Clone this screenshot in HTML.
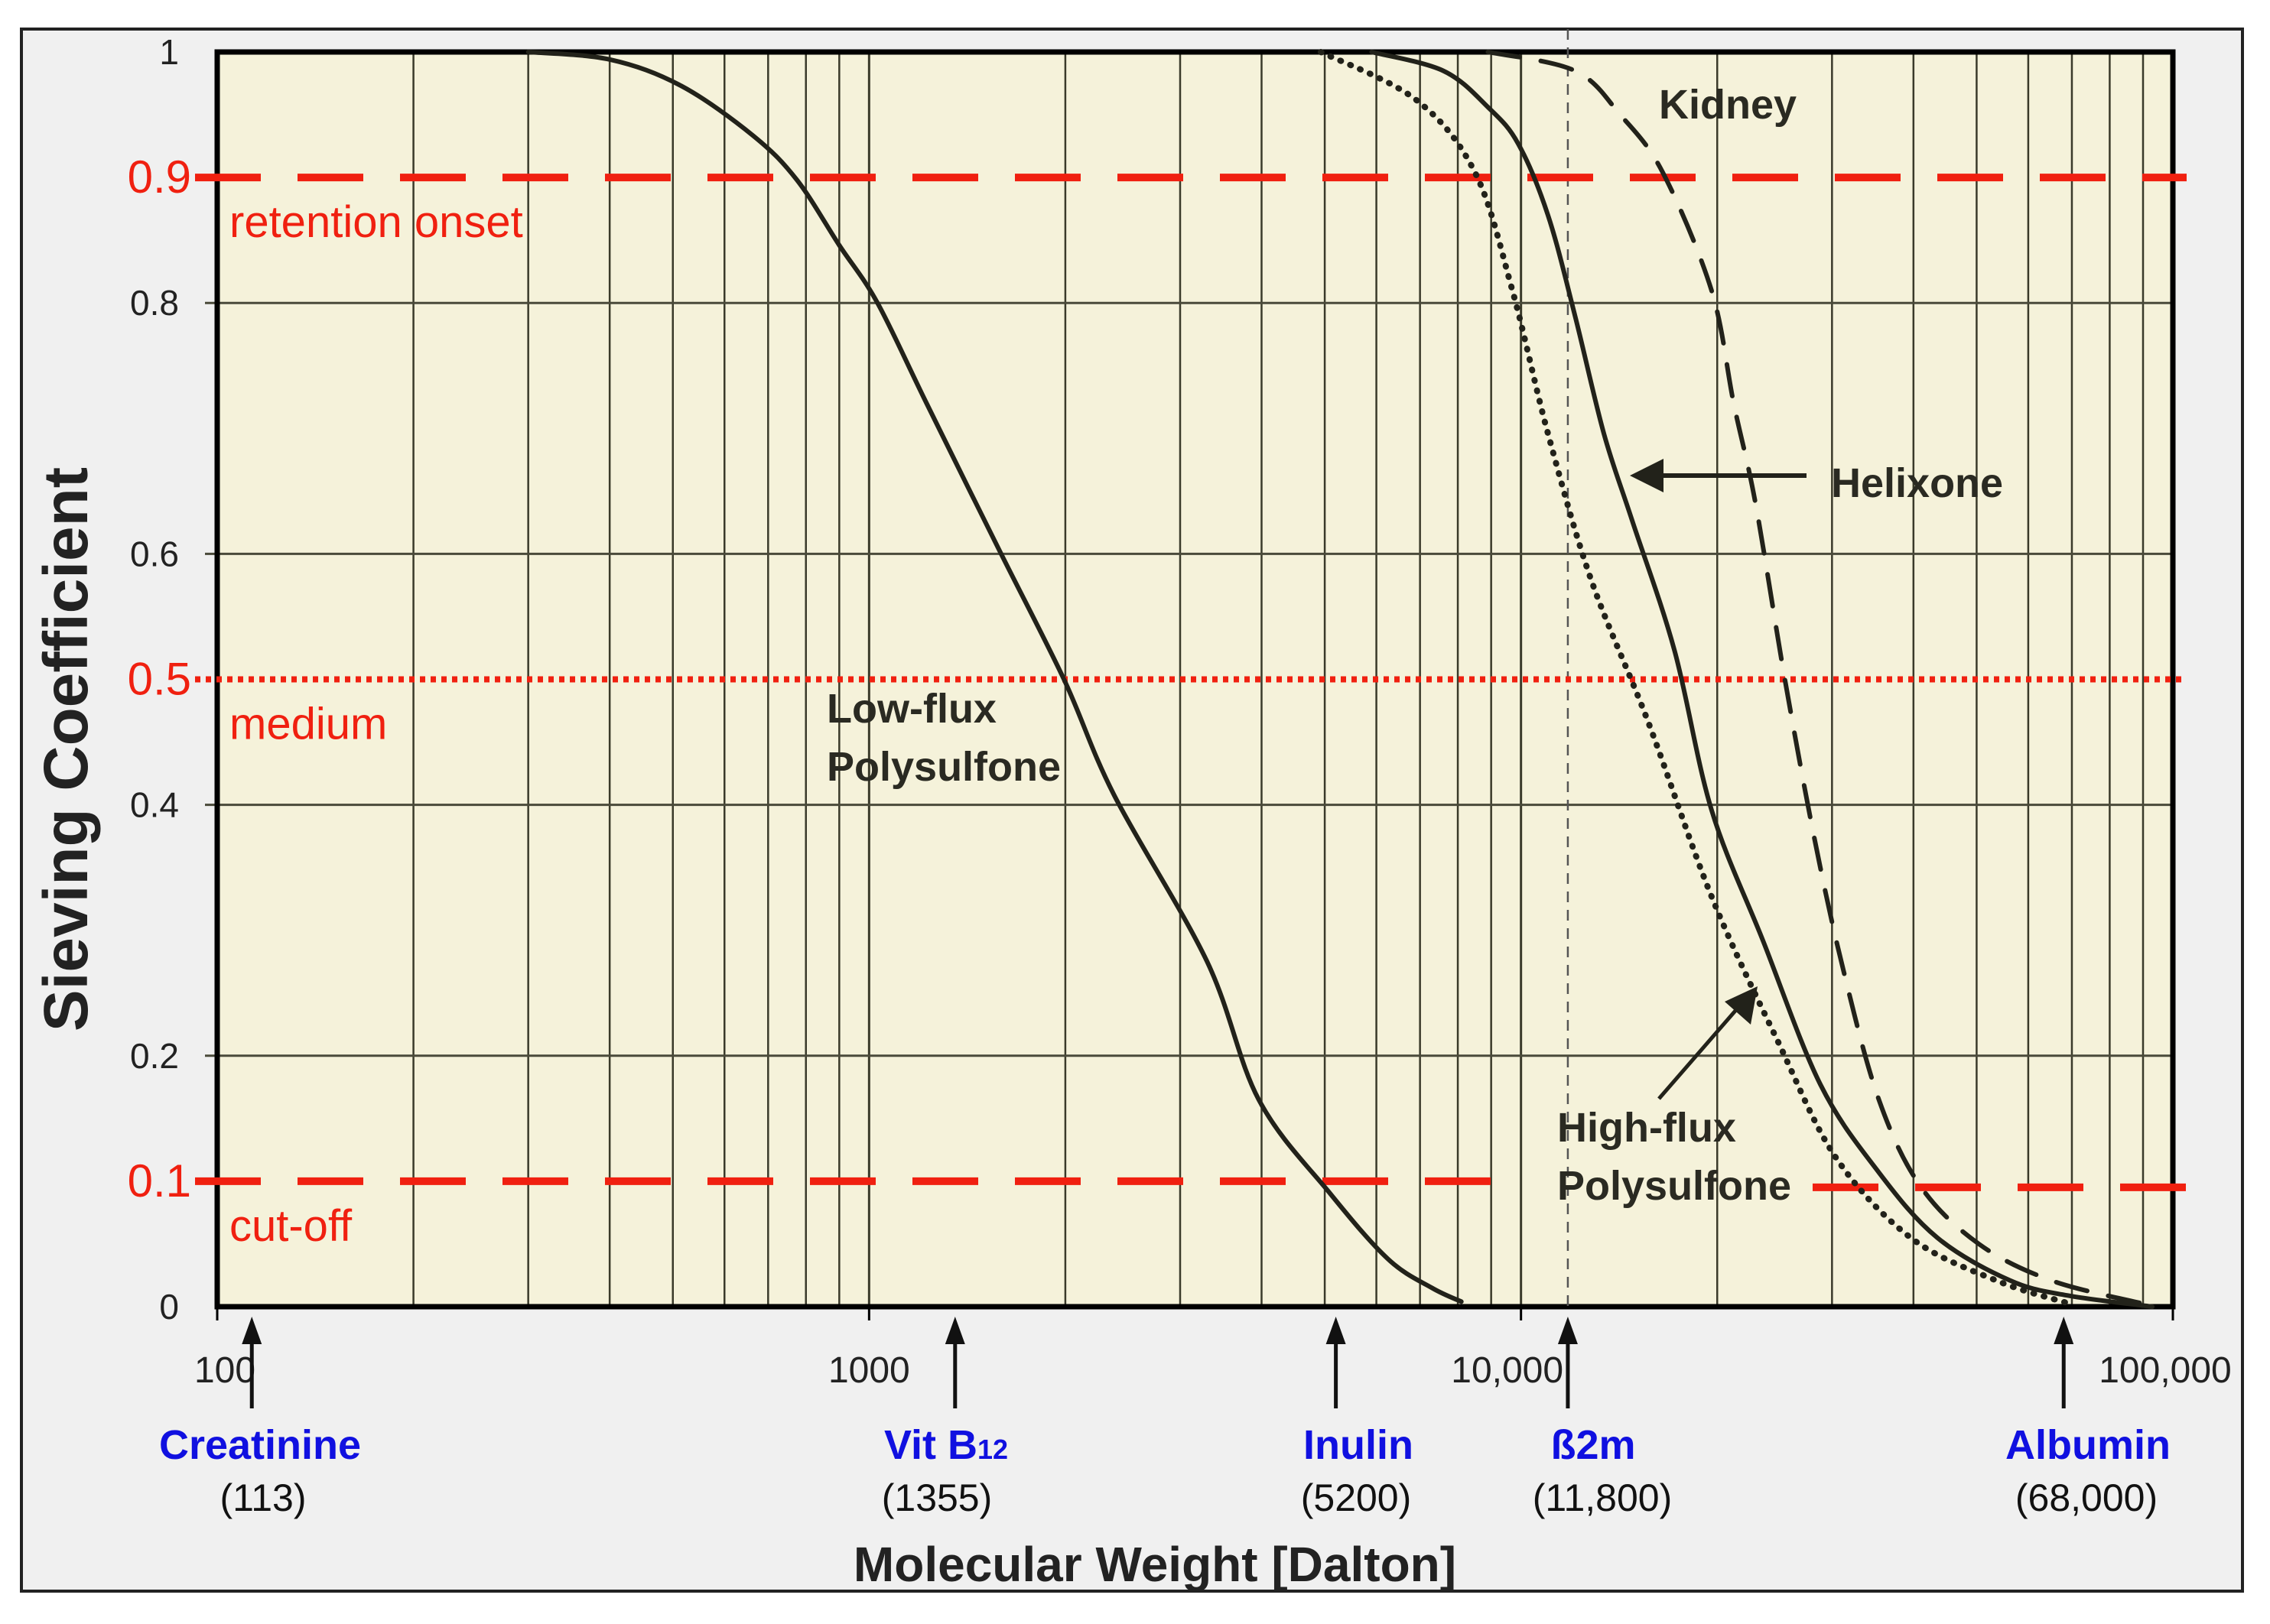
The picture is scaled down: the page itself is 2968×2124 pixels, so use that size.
<!DOCTYPE html>
<html><head><meta charset="utf-8"><style>
html,body{margin:0;padding:0;background:#fff;}
svg{display:block;}
text{font-family:"Liberation Sans",Arial,sans-serif;}
</style></head><body>
<svg id="chart" width="2968" height="2124" viewBox="0 0 2968 2124" xmlns="http://www.w3.org/2000/svg">
<rect x="28" y="38" width="2904" height="2043" fill="#f0f0f0" stroke="#222" stroke-width="4"/>
<g id="plot"></g>
</svg>
<script>
// ---- data ----
const lowFluxMW = [300,400,515,665,775,900,1030,1225,1580,1990,2375,3300,3960,5100,6250,7300,8100];
const lowFluxS  = [1,0.994,0.973,0.933,0.898,0.846,0.8,0.72,0.604,0.5,0.408,0.275,0.165,0.09,0.038,0.015,0.004];
const helixoneMW = [5900,7600,8900,9900,11000,12100,13400,14800,17200,19600,23500,28800,35400,43500,56200,68800,93000];
const helixoneS  = [1,0.985,0.956,0.927,0.87,0.79,0.696,0.627,0.523,0.396,0.292,0.177,0.107,0.055,0.021,0.009,0.0];
const highFluxMW = [4930,6900,8500,9700,11000,12800,15700,19600,24800,30400,39600,53500,68800];
const highFluxS  = [1,0.962,0.904,0.81,0.696,0.58,0.465,0.327,0.211,0.119,0.055,0.021,0.003];
const kidneyMW = [8900,12100,14200,16500,19600,21200,22900,25400,28200,31200,35400,41000,50400,65000,89000];
const kidneyS  = [1,0.985,0.95,0.904,0.81,0.72,0.64,0.5,0.373,0.269,0.165,0.096,0.05,0.021,0.003];
const yTicks = [0,0.2,0.4,0.6,0.8,1];
const yTickLabels = ["0","0.2","0.4","0.6","0.8","1"];
const xDecades = [100,1000,10000,100000];
const xDecadeLabels = ["100","1000","10,000","100,000"];
const markerMW = [113,1355,5200,11800,68000];
const markerNames = ["Creatinine","Vit B","Inulin","ß2m","Albumin"];
const markerValues = ["(113)","(1355)","(5200)","(11,800)","(68,000)"];
const thresholds = [0.9,0.5,0.1];
const thresholdLabels = ["0.9","0.5","0.1"];
const thresholdNames = ["retention onset","medium","cut-off"];

// ---- axes ----
const L=284,R=2841,T=68,B=1709;
function xs(m){return L+(Math.log10(m)-2)/3*(R-L);}
function ys(v){return B-v*(B-T);}
const NS="http://www.w3.org/2000/svg";
const g=document.getElementById('plot');
function el(tag,attrs,parent){const e=document.createElementNS(NS,tag);for(const k in attrs)e.setAttribute(k,attrs[k]);(parent||g).appendChild(e);return e;}
function txt(s,attrs){const e=el('text',attrs);e.textContent=s;return e;}

let e=el('rect',{x:L,y:T,width:R-L,height:B-T,fill:'#f5f2da'});



for(let d=100;d<100000;d*=10){
  for(let k=2;k<=9;k++){
    const x=xs(d*k);
    e=el('line',{x1:x,y1:T,x2:x,y2:B,stroke:'#3a3a2a','stroke-width':2.5});
    
    
  }
}
for(let i=1;i<xDecades.length-1;i++){
  const x=xs(xDecades[i]);
  e=el('line',{x1:x,y1:T,x2:x,y2:B,stroke:'#3a3a2a','stroke-width':3});
  
  
}
yTicks.forEach((v,i)=>{
  const y=ys(v);
  if(v>0&&v<1){
    e=el('line',{x1:L-16,y1:y,x2:R,y2:y,stroke:'#4a4a3a','stroke-width':3});
    
    
  }
  e=txt(yTickLabels[i],{x:L-50,y:y+16,'text-anchor':'end','font-size':46,fill:'#222'});
  
  
});
e=el('rect',{x:L,y:T,width:R-L,height:B-T,fill:'none',stroke:'#000','stroke-width':7});



xDecades.forEach((d,i)=>{
  const x=xs(d);
  e=el('line',{x1:x,y1:B,x2:x,y2:B+18,stroke:'#000','stroke-width':3});
  
  
  const ax=i===0?x+10:(i===3?x-10:x);
  e=txt(xDecadeLabels[i],{x:i==2?x-18:ax,y:1808,'text-anchor':'middle','font-size':48,fill:'#222'});
  
  
});

e=el('line',{x1:xs(11800),y1:38,x2:xs(11800),y2:B,stroke:'#555','stroke-width':2.5,'stroke-dasharray':'14 10'});



thresholds.forEach((t,i)=>{
  const y=ys(t);
  let dash=i===1?'7 7':'86 48';
  let w=i===1?8:10;
  if(i===2){
    e=el('line',{x1:255,y1:y,x2:1990,y2:y,stroke:'#f02010','stroke-width':w,'stroke-dasharray':dash});
    
    
    e=el('line',{x1:2370,y1:y+8,x2:2885,y2:y+8,stroke:'#f02010','stroke-width':w,'stroke-dasharray':dash});
    
    
  } else {
    e=el('line',{x1:255,y1:y,x2:R+18,y2:y,stroke:'#f02010','stroke-width':w,'stroke-dasharray':dash});
    
    
  }
  e=txt(thresholdLabels[i],{x:250,y:y+20,'text-anchor':'end','font-size':60,fill:'#f02010'});
  
  
  e=txt(thresholdNames[i],{x:300,y:y+78,'font-size':58,fill:'#f02010'});
  
  
});

// smooth curves (Catmull-Rom through data points)
function curve(mw,s,name,dash,width){
  const p=mw.map((m,i)=>[xs(m),ys(s[i])]);
  let d='M'+p[0][0].toFixed(1)+' '+p[0][1].toFixed(1);
  for(let i=0;i<p.length-1;i++){
    const p0=p[i-1]||p[i],p1=p[i],p2=p[i+1],p3=p[i+2]||p[i+1];
    const c1=[p1[0]+(p2[0]-p0[0])/6,p1[1]+(p2[1]-p0[1])/6];
    const c2=[p2[0]-(p3[0]-p1[0])/6,p2[1]-(p3[1]-p1[1])/6];
    d+=` C${c1[0].toFixed(1)} ${c1[1].toFixed(1)} ${c2[0].toFixed(1)} ${c2[1].toFixed(1)} ${p2[0].toFixed(1)} ${p2[1].toFixed(1)}`;
  }
  const path=el('path',{d:d,fill:'none',stroke:'#22221a','stroke-width':width,'stroke-dasharray':dash,'stroke-linecap':'round','stroke-linejoin':'round'});
  
  
}
curve(lowFluxMW,lowFluxS,'low-flux-polysulfone-curve','none',6);
curve(helixoneMW,helixoneS,'helixone-curve','none',6);
curve(highFluxMW,highFluxS,'high-flux-polysulfone-curve','1 13',8);
curve(kidneyMW,kidneyS,'kidney-curve','42 28',6);

function label(s,x,y,name){e=txt(s,{x:x,y:y,'font-size':54,fill:'#2a2a22','font-weight':'bold'});}
label('Kidney',2169,155,'kidney-label');
label('Helixone',2394,650,'helixone-label');
label('Low-flux',1081,945,'low-flux-label');
label('Polysulfone',1081,1021,'low-flux-label-line2');
label('High-flux',2036,1493,'high-flux-label');
label('Polysulfone',2036,1569,'high-flux-label-line2');
e=el('line',{x1:2362,y1:622,x2:2160,y2:622,stroke:'#22221a','stroke-width':6});


e=el('polygon',{points:'2131,622 2175,600 2175,644',fill:'#22221a'});


e=el('line',{x1:2169,y1:1437,x2:2275,y2:1315,stroke:'#22221a','stroke-width':5});


e=el('polygon',{points:'2298,1290 2289,1340 2255,1310',fill:'#22221a'});



markerMW.forEach((m,i)=>{
  const x=xs(m);
  e=el('line',{x1:x,y1:1750,x2:x,y2:1842,stroke:'#111','stroke-width':5});
  
  
  e=el('polygon',{points:`${x},1722 ${x-13},1758 ${x+13},1758`,fill:'#111'});
  
  
  const cx=[340,1237,1776,2083,2730][i];
  const n=txt(markerNames[i],{x:cx,y:1908,'text-anchor':'middle','font-size':54,'font-weight':'bold',fill:'#1010e0'});
  if(i===1){const ts=el('tspan',{'font-size':36},n);ts.textContent='12';}
  
  
  e=txt(markerValues[i],{x:[344,1225,1773,2095,2728][i],y:1976,'text-anchor':'middle','font-size':50,fill:'#111'});
  
  
});

e=txt('Molecular Weight  [Dalton]',{x:1510,y:2068,'text-anchor':'middle','font-size':64,'font-weight':'bold',fill:'#222'});
e.setAttribute('xml:space','preserve');


e=txt('Sieving Coefficient',{x:0,y:0,'text-anchor':'middle','font-size':82,'font-weight':'bold',fill:'#222',transform:'translate(114,980) rotate(-90)'});


</script>
</body></html>
